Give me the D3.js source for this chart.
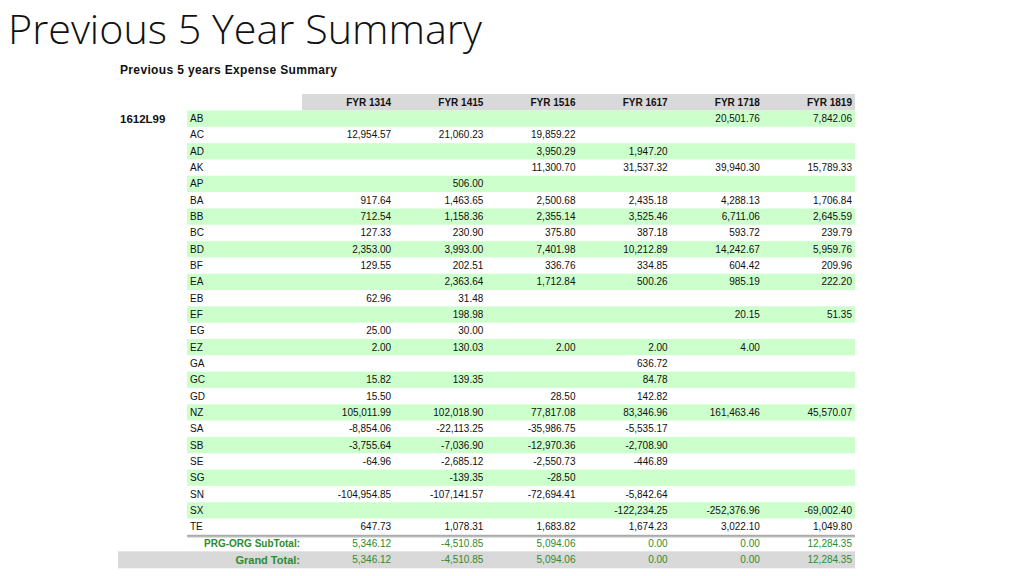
<!DOCTYPE html>
<html>
<head>
<meta charset="utf-8">
<script src="https://cdn.jsdelivr.net/npm/d3@7"></script>
<style>
  body { margin: 0; background: #fff; }
  svg { display: block; font-family: "Liberation Sans", Arial, sans-serif; }
</style>
</head>
<body>
<svg id="chart"></svg>
<script>
const width = 1024;
const height = 576;

// Table data
const years = ["FYR 1314", "FYR 1415", "FYR 1516", "FYR 1617", "FYR 1718", "FYR 1819"];
const codes = ["AB", "AC", "AD", "AK", "AP", "BA", "BB", "BC", "BD", "BF", "EA", "EB", "EF",
  "EG", "EZ", "GA", "GC", "GD", "NZ", "SA", "SB", "SE", "SG", "SN", "SX", "TE"];

const fyr1314 = [null, 12954.57, null, null, null, 917.64, 712.54, 127.33, 2353.00, 129.55, null, 62.96, null,
  25.00, 2.00, null, 15.82, 15.50, 105011.99, -8854.06, -3755.64, -64.96, null, -104954.85, null, 647.73];
const fyr1415 = [null, 21060.23, null, null, 506.00, 1463.65, 1158.36, 230.90, 3993.00, 202.51, 2363.64, 31.48, 198.98,
  30.00, 130.03, null, 139.35, null, 102018.90, -22113.25, -7036.90, -2685.12, -139.35, -107141.57, null, 1078.31];
const fyr1516 = [null, 19859.22, 3950.29, 11300.70, null, 2500.68, 2355.14, 375.80, 7401.98, 336.76, 1712.84, null, null,
  null, 2.00, null, null, 28.50, 77817.08, -35986.75, -12970.36, -2550.73, -28.50, -72694.41, null, 1683.82];
const fyr1617 = [null, null, 1947.20, 31537.32, null, 2435.18, 3525.46, 387.18, 10212.89, 334.85, 500.26, null, null,
  null, 2.00, 636.72, 84.78, 142.82, 83346.96, -5535.17, -2708.90, -446.89, null, -5842.64, -122234.25, 1674.23];
const fyr1718 = [20501.76, null, null, 39940.30, null, 4288.13, 6711.06, 593.72, 14242.67, 604.42, 985.19, null, 20.15,
  null, 4.00, null, null, null, 161463.46, null, null, null, null, null, -252376.96, 3022.10];
const fyr1819 = [7842.06, null, null, 15789.33, null, 1706.84, 2645.59, 239.79, 5959.76, 209.96, 222.20, null, 51.35,
  null, null, null, null, null, 45570.07, null, null, null, null, null, -69002.40, 1049.80];

const subTotals = [5346.12, -4510.85, 5094.06, 0.00, 0.00, 12284.35];
const grandTotals = [5346.12, -4510.85, 5094.06, 0.00, 0.00, 12284.35];

const columns = [fyr1314, fyr1415, fyr1516, fyr1617, fyr1718, fyr1819];

// plain hyphen for negatives, like the spreadsheet
const fmt = d3.formatLocale({
  decimal: ".", thousands: ",", grouping: [3], currency: ["$", ""], minus: "-"
}).format(",.2f");
const green = "#2e8b2e";
const rowGreen = "#ccffcc";
const gray = "#d9d9d9";

const svg = d3.select("#chart").attr("width", width).attr("height", height);

// Scales for columns and rows
const x = d3.scaleBand().domain(years).range([302, 855]);
const y = d3.scaleBand().domain(codes).range([110.5, 110.5 + codes.length * 16.32]);
const right = (yr) => x(yr) + x.bandwidth() - 3;

// Title, shrink to fit reference width
const title = svg.append("text")
  .attr("x", 8)
  .attr("y", 44)
  .attr("font-family", "'Open Sans', sans-serif")
  .attr("font-weight", 300)
  .attr("font-size", 42)
  .attr("fill", "#111")
  .text("Previous 5 Year Summary");
const tw = title.node().getComputedTextLength();
title.attr("font-size", 42 * 474 / tw);

svg.append("text")
  .attr("x", 120)
  .attr("y", 74)
  .attr("font-size", 12)
  .attr("font-weight", "bold")
  .attr("letter-spacing", 0.35)
  .attr("fill", "#111")
  .text("Previous 5 years Expense Summary");

// Header band
svg.append("rect")
  .attr("x", 302).attr("y", 94)
  .attr("width", 553).attr("height", 16.5)
  .attr("fill", gray);

svg.selectAll(".hdr")
  .data(years)
  .join("text")
  .attr("class", "hdr")
  .attr("x", (d) => right(d))
  .attr("y", 106)
  .attr("text-anchor", "end")
  .attr("font-size", 10)
  .attr("font-weight", "bold")
  .attr("fill", "#111")
  .text((d) => d);

// Alternating row bands
svg.selectAll(".band")
  .data(codes.filter((d, i) => i % 2 === 0))
  .join("rect")
  .attr("class", "band")
  .attr("x", 187)
  .attr("y", (d) => y(d))
  .attr("width", 668)
  .attr("height", y.bandwidth())
  .attr("fill", rowGreen);

svg.append("text")
  .attr("x", 120)
  .attr("y", y(codes[0]) + y.bandwidth() / 2 + 4)
  .attr("font-size", 11.5)
  .attr("font-weight", "bold")
  .attr("fill", "#111")
  .text("1612L99");

svg.selectAll(".code")
  .data(codes)
  .join("text")
  .attr("class", "code")
  .attr("x", 190)
  .attr("y", (d) => y(d) + y.bandwidth() / 2 + 3.5)
  .attr("font-size", 10)
  .attr("fill", "#111")
  .text((d) => d);

// Cell values
years.forEach((yr, c) => {
  svg.append("g")
    .selectAll("text")
    .data(codes.map((code, i) => ({ code, v: columns[c][i] })).filter((d) => d.v !== null))
    .join("text")
    .attr("x", right(yr))
    .attr("y", (d) => y(d.code) + y.bandwidth() / 2 + 3.5)
    .attr("text-anchor", "end")
    .attr("font-size", 10)
    .attr("fill", "#111")
    .text((d) => fmt(d.v));
});

// Separator under last row
const yEnd = y.range()[1];
svg.append("line")
  .attr("x1", 187).attr("x2", 855)
  .attr("y1", yEnd + 0.5).attr("y2", yEnd + 0.5)
  .attr("stroke", "#999").attr("stroke-width", 1);
svg.append("line")
  .attr("x1", 187).attr("x2", 855)
  .attr("y1", yEnd + 2).attr("y2", yEnd + 2)
  .attr("stroke", "#999").attr("stroke-width", 1);

// Subtotal row
const subY = yEnd + 12;
svg.append("text")
  .attr("x", 300).attr("y", subY)
  .attr("text-anchor", "end")
  .attr("font-size", 10)
  .attr("font-weight", "bold")
  .attr("fill", green)
  .text("PRG-ORG SubTotal:");
svg.selectAll(".sub")
  .data(subTotals)
  .join("text")
  .attr("class", "sub")
  .attr("x", (d, i) => right(years[i]))
  .attr("y", subY)
  .attr("text-anchor", "end")
  .attr("font-size", 10)
  .attr("fill", green)
  .text((d) => fmt(d));

// Grand total row
const gTop = yEnd + 16.5;
svg.append("rect")
  .attr("x", 118).attr("y", gTop)
  .attr("width", 737).attr("height", 17)
  .attr("fill", gray);
svg.append("text")
  .attr("x", 300).attr("y", gTop + 12.5)
  .attr("text-anchor", "end")
  .attr("font-size", 11)
  .attr("font-weight", "bold")
  .attr("fill", green)
  .text("Grand Total:");
svg.selectAll(".grand")
  .data(grandTotals)
  .join("text")
  .attr("class", "grand")
  .attr("x", (d, i) => right(years[i]))
  .attr("y", gTop + 12)
  .attr("text-anchor", "end")
  .attr("font-size", 10)
  .attr("fill", green)
  .text((d) => fmt(d));
</script>
</body>
</html>
